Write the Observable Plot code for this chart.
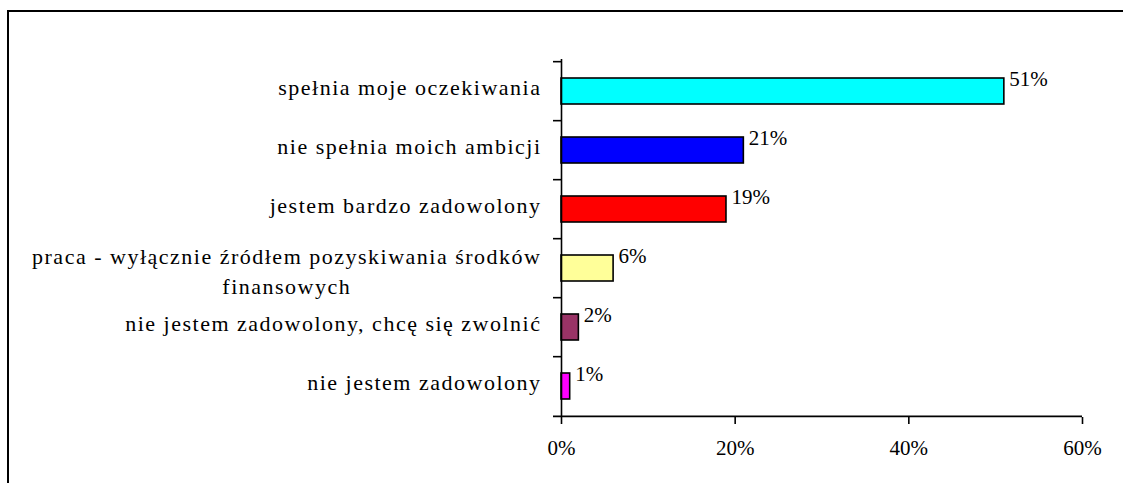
<!DOCTYPE html>
<html>
<head>
<meta charset="utf-8">
<script src="https://cdn.jsdelivr.net/npm/d3@7"></script>
<script src="https://cdn.jsdelivr.net/npm/@observablehq/plot@0.6"></script>
<style>
  html, body { margin: 0; padding: 0; background: #fff; overflow: hidden; width: 1123px; height: 483px; }
  #wrap { position: relative; width: 1123px; height: 483px; overflow: hidden; }
  #frame { position: absolute; left: 7px; top: 10px; width: 1400px; height: 800px; border: 2px solid #000; box-sizing: border-box; }
  #chart { position: absolute; left: 0; top: 0; }
  #chart svg text { font-family: 'Liberation Serif', 'Times New Roman', serif; }
</style>
</head>
<body>
<div id="wrap"><div id="frame"></div><div id="chart"></div></div>
<script>
const categories = [
  "spełnia moje oczekiwania",
  "nie spełnia moich ambicji",
  "jestem bardzo zadowolony",
  "praca - wyłącznie źródłem pozyskiwania środków finansowych",
  "nie jestem zadowolony, chcę się zwolnić",
  "nie jestem zadowolony"
];
const categoryLabels = [
  "spełnia moje oczekiwania",
  "nie spełnia moich ambicji",
  "jestem bardzo zadowolony",
  "praca - wyłącznie źródłem pozyskiwania środków\nfinansowych",
  "nie jestem zadowolony, chcę się zwolnić",
  "nie jestem zadowolony"
];
const values = [51, 21, 19, 6, 2, 1];
const colors = ["#00FFFF", "#0000FF", "#FF0000", "#FFFF99", "#993366", "#FF00FF"];
const xTicks = [0, 20, 40, 60];

const data = categories.map((c, i) => ({category: c, value: values[i], color: colors[i]}));
const labelOf = new Map(categories.map((c, i) => [c, categoryLabels[i]]));

const W = 1123, H = 483;
const mTop = 59, mBottom = 66, mLeft = 561, mRight = 41;
const pInner = 0.56, pOuter = 0.28;
const step = (H - mTop - mBottom) / (categories.length - pInner + 2 * pOuter);
const xMax = d3.max(xTicks);
const serif = "'Liberation Serif', 'Times New Roman', serif";
const lineGap = 30;

const chart = Plot.plot({
  width: W,
  height: H,
  marginTop: mTop,
  marginBottom: mBottom,
  marginLeft: mLeft,
  marginRight: mRight,
  style: {fontFamily: serif, fontSize: "21px", color: "#000", background: "transparent"},
  x: {domain: [0, xMax], label: null},
  y: {domain: categories, paddingInner: pInner, paddingOuter: pOuter, align: 0.5, label: null},
  marks: [
    Plot.barX(data, {x: "value", y: "category", fill: (d) => d.color, stroke: "#000", strokeWidth: 1.6}),
    Plot.ruleX([0], {stroke: "#000", strokeWidth: 1.6}),
    Plot.ruleY(categories, {y: (d) => d, x1: () => 0, x2: () => 0, insetLeft: -8, dy: -step / 2, stroke: "#000", strokeWidth: 1.6}),
    Plot.ruleY([categories[categories.length - 1]], {y: (d) => d, x1: () => 0, x2: () => xMax, insetLeft: -8, dy: step / 2, stroke: "#000", strokeWidth: 1.6}),
    Plot.axisX({ticks: xTicks, tickFormat: (d) => d + "%", tickSize: 7, tickPadding: 16, strokeWidth: 1.6, fontSize: 21, label: null, fontFamily: serif}),
    Plot.axisY({tickSize: 0, tickPadding: 20, tickFormat: (d) => labelOf.get(d), fontSize: 22, label: null, fontFamily: serif}),
    Plot.text(data, {x: "value", y: "category", text: (d) => d.value + "%", textAnchor: "start", dx: 5, dy: -12, fontSize: 21, fill: "#000", fontFamily: serif})
  ]
});

document.getElementById("chart").appendChild(chart);

// letter spacing of category labels; baseline placement; centre the lines of a multi-line label
const yLabels = chart.querySelector('g[aria-label="y-axis tick label"]');
if (yLabels) {
  yLabels.style.letterSpacing = "1.5px";
  yLabels.querySelectorAll("text").forEach((t) => {
    const spans = t.querySelectorAll("tspan");
    if (spans.length > 1) {
      const widths = Array.from(spans, (s) => s.getComputedTextLength());
      const maxW = d3.max(widths);
      const first = -((spans.length - 1) * lineGap) / 2 + 0;
      spans.forEach((s, i) => {
        s.removeAttribute("dy");
        s.setAttribute("y", first + i * lineGap + 10);
        s.setAttribute("x", -maxW / 2);
        s.setAttribute("text-anchor", "middle");
      });
      t.removeAttribute("dy");
    } else {
      t.removeAttribute("dy");
      t.setAttribute("y", 3);
    }
  });
}
</script>
</body>
</html>
